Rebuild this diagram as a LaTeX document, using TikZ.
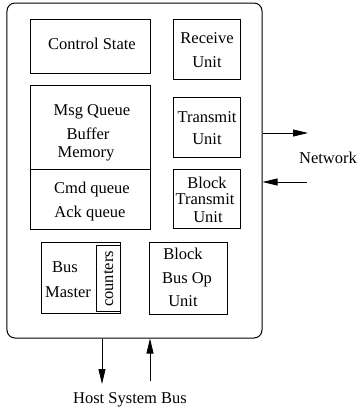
\documentclass[tikz,border=0pt]{standalone}
\usepackage{fontspec}
\setmainfont{Liberation Serif}
\usetikzlibrary{arrows.meta}
\begin{document}
\begin{tikzpicture}[x=1bp,y=-1bp,
  box/.style={draw,line width=0.8bp,inner sep=0,minimum width=#1},
  txt/.style={inner sep=0,text height=12bp,text depth=4bp,font=\fontsize{16.5bp}{19bp}\selectfont},
  arr/.style={line width=0.8bp,-{Triangle[length=15bp,width=7bp]}}]
\useasboundingbox (0,0) rectangle (358,410);
\node[draw,line width=1bp,rounded corners=8bp,inner sep=0,minimum width=255bp,minimum height=335bp] (outer) at (134.5,170.5) {};
% boxes
\node[box=120bp,minimum height=54bp] (ctrl) at (90,46) {};
\node[box=120bp,minimum height=84bp] (msg) at (90,127) {};
\node[box=120bp,minimum height=60bp] (cmd) at (90,199) {};
\node[box=67bp,minimum height=60bp] (recv) at (206.5,49) {};
\node[box=67bp,minimum height=60bp] (tx) at (206.5,127) {};
\node[box=67bp,minimum height=59bp] (btx) at (206.5,198.5) {};
\node[box=79bp,minimum height=71bp] (bm) at (80.5,277.5) {};
\node[box=24bp,minimum height=66bp] (cnt) at (108,278) {};
\node[box=78bp,minimum height=72bp] (bbo) at (188,278) {};
% texts
\node[txt] (t1) at (92,45) {Control State};
\node[txt] (t2) at (207,39) {Receive};
\node[txt] (t3) at (207,63) {Unit};
\node[txt] (t4) at (207,118) {Transmit};
\node[txt] (t5) at (207,140) {Unit};
\node[txt] (t6) at (207,184) {Block};
\node[txt] (t7) at (205,200) {Transmit};
\node[txt] (t8) at (208,218) {Unit};
\node[txt] (t9) at (92,111) {Msg Queue};
\node[txt] (t10) at (88,135) {Buffer};
\node[txt] (t11) at (86,153) {Memory};
\node[txt] (t12) at (92,189) {Cmd queue};
\node[txt] (t13) at (90,213) {Ack queue};
\node[txt] (t14) at (65,268) {Bus};
\node[txt] (t15) at (68,293) {Master};
\node[txt,rotate=90] (t16) at (109,279) {counters};
\node[txt] (t17) at (183,255) {Block};
\node[txt] (t18) at (187,279) {Bus Op};
\node[txt] (t19) at (183,302) {Unit};
\node[txt] (net) at (328,159) {Network};
\node[txt] (host) at (130,399) {Host System Bus};
% arrows
\coordinate (nout) at (308,133);
\coordinate (nin) at (307,182);
\coordinate (hdown) at (102,384);
\coordinate (hup) at (150,381);
\draw[arr] (outer.east |- nout) -- (nout);
\draw[arr] (nin) -- (outer.east |- nin);
\draw[arr] (outer.south -| hdown) -- (hdown);
\draw[arr] (hup) -- (outer.south -| hup);
\end{tikzpicture}
\end{document}
